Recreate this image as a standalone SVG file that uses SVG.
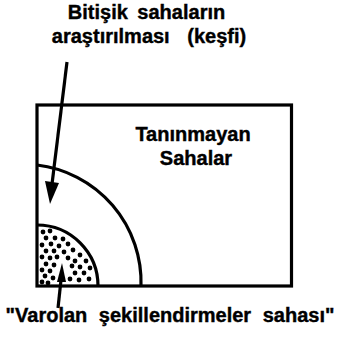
<svg xmlns="http://www.w3.org/2000/svg" width="341" height="339" viewBox="0 0 341 339">
<style>
  text { font-family: "Liberation Sans", Arial, sans-serif; font-weight: bold; font-size: 20px; fill: #000; stroke: #000; stroke-width: 0.4; }
  .ln { fill: none; stroke: #000; stroke-width: 3.2; }
  .dot { fill: #000; }
</style>
<rect width="341" height="339" fill="#fff"/>

<g id="frame">
  <rect class="ln" x="37" y="105" width="254.5" height="181"/>
</g>

<g id="unknown-areas">
  <path class="ln" d="M37,165 A118,118 0 0 1 141,286"/>
  <text x="193" y="141" text-anchor="middle">Tanınmayan</text>
  <text x="196" y="165" text-anchor="middle">Sahalar</text>
</g>

<g id="existing-area">
  <path class="ln" d="M37,225 A61,61 0 0 1 98,286"/>
  <g class="dot">
    <circle cx="43" cy="232" r="2.4"/><circle cx="50" cy="231" r="2.4"/>
    <circle cx="46" cy="238" r="2.4"/><circle cx="55" cy="238" r="2.4"/><circle cx="63" cy="239" r="2.4"/>
    <circle cx="42" cy="245" r="2.4"/><circle cx="51" cy="244" r="2.4"/><circle cx="59" cy="246" r="2.4"/><circle cx="68" cy="244" r="2.4"/>
    <circle cx="46" cy="251" r="2.4"/><circle cx="54" cy="251" r="2.4"/><circle cx="64" cy="252" r="2.4"/><circle cx="73" cy="250" r="2.4"/><circle cx="80" cy="255" r="2.4"/>
    <circle cx="42" cy="257" r="2.4"/><circle cx="50" cy="258" r="2.4"/><circle cx="57" cy="257" r="2.4"/><circle cx="68" cy="258" r="2.4"/><circle cx="75" cy="261" r="2.4"/><circle cx="86" cy="261" r="2.4"/>
    <circle cx="46" cy="264" r="2.4"/><circle cx="54" cy="265" r="2.4"/><circle cx="72" cy="266" r="2.4"/><circle cx="80" cy="267" r="2.4"/>
    <circle cx="42" cy="270" r="2.4"/><circle cx="50" cy="271" r="2.4"/><circle cx="75" cy="273" r="2.4"/><circle cx="84" cy="273" r="2.4"/><circle cx="90" cy="268" r="2.4"/>
    <circle cx="45" cy="276" r="2.4"/><circle cx="53" cy="278" r="2.4"/><circle cx="70" cy="279" r="2.4"/><circle cx="79" cy="280" r="2.4"/><circle cx="89" cy="279" r="2.4"/>
    <circle cx="42" cy="282" r="2.4"/><circle cx="48" cy="283" r="2.4"/>
  </g>
</g>

<g id="labels">
  <text x="146.5" y="19" text-anchor="middle" word-spacing="4">Bitişik sahaların</text>
  <text x="149" y="43" text-anchor="middle" word-spacing="12">araştırılması (keşfi)</text>
  <text x="170" y="322" text-anchor="middle" word-spacing="6">"Varolan şekillendirmeler sahası"</text>
</g>

<g id="connectors">
  <path class="ln" d="M67,62 L52,184" stroke-width="3"/>
  <path d="M50,204 L45,181 L59,183 Z" fill="#000"/>
  <path class="ln" d="M58,308 L61,280" stroke-width="3"/>
  <path d="M62,263 L57,282 L66,282 Z" fill="#000"/>
</g>
</svg>
